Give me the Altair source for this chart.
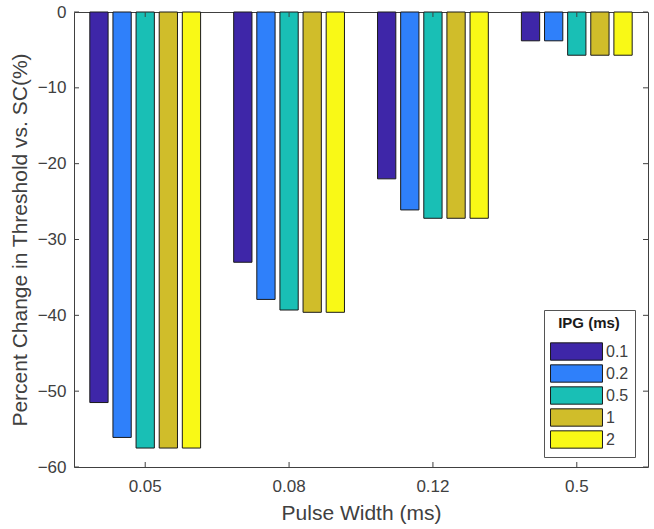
import altair as alt
import pandas as pd

# Pulse widths (x categories) and inter-phase gaps (series)
pulse_widths = ["0.05", "0.08", "0.12", "0.5"]
ipg_levels = ["0.1", "0.2", "0.5", "1", "2"]

# Percent change in threshold vs. SC for each IPG, one value per pulse width
ipg_0_1 = [-51.5, -33.0, -22.0, -3.8]
ipg_0_2 = [-56.1, -37.9, -26.1, -3.8]
ipg_0_5 = [-57.5, -39.3, -27.2, -5.7]
ipg_1 = [-57.5, -39.6, -27.2, -5.7]
ipg_2 = [-57.5, -39.6, -27.2, -5.7]

y_ticks = [0, -10, -20, -30, -40, -50, -60]

series = [ipg_0_1, ipg_0_2, ipg_0_5, ipg_1, ipg_2]
rows = []
for ipg, vals in zip(ipg_levels, series):
    for pw, v in zip(pulse_widths, vals):
        rows.append({"pw": pw, "ipg": ipg, "change": v})
df = pd.DataFrame(rows)

parula = ["#3e26a8", "#2f80fa", "#19bfb5", "#d0bd2a", "#f9f916"]

W, H = 574, 455
FONT = "Liberation Sans"
TXT = "#404040"
FRAME = "#404040"
LEG_X, LEG_Y = 470, 298

x_scale = alt.Scale(domain=pulse_widths, paddingInner=0.23, paddingOuter=0.11)
y_scale = alt.Scale(domain=[-60, 0], nice=False, zero=False)

bars = alt.Chart(df).mark_bar(stroke="#1a1a1a", strokeWidth=1).encode(
    x=alt.X("pw:N", scale=x_scale, sort=pulse_widths,
            axis=alt.Axis(title="Pulse Width (ms)", labelAngle=0, ticks=False,
                          labelPadding=11, titlePadding=8)),
    xOffset=alt.XOffset("ipg:N", sort=ipg_levels,
                        scale=alt.Scale(domain=ipg_levels, paddingInner=0.21)),
    y=alt.Y("change:Q", scale=y_scale,
            axis=alt.Axis(title="Percent Change in Threshold vs. SC(%)",
                          values=y_ticks, ticks=False, grid=False,
                          labelPadding=8, titlePadding=7)),
    color=alt.Color("ipg:N", sort=ipg_levels,
                    scale=alt.Scale(domain=ipg_levels, range=parula),
                    legend=alt.Legend(
                        title="IPG (ms)", orient="none", legendX=LEG_X, legendY=LEG_Y,
                        symbolType="M-3,-1H3V1H-3Z", symbolSize=300,
                        symbolStrokeColor="#1a1a1a", symbolStrokeWidth=1,
                        symbolOffset=17, labelOffset=20,
                        rowPadding=-1, padding=6, strokeColor="#555555",
                        fillColor="white", titleAnchor="middle",
                        titleFontWeight="bold", titleFontSize=15,
                        titlePadding=11, labelFontSize=16,
                        titleColor="#1a1a1a", labelColor=TXT, labelFont=FONT,
                        titleFont=FONT)),
)

# inward tick marks on all four sides of the box
tick_df = pd.DataFrame({"v": y_ticks})
pw_df = pd.DataFrame({"pw": pulse_widths})
yt_left = alt.Chart(tick_df).mark_rule(color=FRAME, strokeWidth=1).encode(
    y=alt.Y("v:Q", scale=y_scale), x=alt.value(0), x2=alt.value(5))
yt_right = alt.Chart(tick_df).mark_rule(color=FRAME, strokeWidth=1).encode(
    y=alt.Y("v:Q", scale=y_scale), x=alt.value(W - 5), x2=alt.value(W))
xt_bottom = alt.Chart(pw_df).mark_rule(color=FRAME, strokeWidth=1).encode(
    x=alt.X("pw:N", scale=x_scale, sort=pulse_widths), y=alt.value(H - 5), y2=alt.value(H))
xt_top = alt.Chart(pw_df).mark_rule(color=FRAME, strokeWidth=1).encode(
    x=alt.X("pw:N", scale=x_scale, sort=pulse_widths), y=alt.value(0), y2=alt.value(5))

# divider under the legend title
divider = alt.Chart(pw_df.head(1)).mark_rule(color="#555555", strokeWidth=1).encode(
    x=alt.value(LEG_X), x2=alt.value(LEG_X + 89), y=alt.value(322))

chart = alt.layer(bars, yt_left, yt_right, xt_bottom, xt_top, divider).properties(
    width=W, height=H, autosize="none", background="white",
    padding={"left": 74, "top": 12, "right": 6, "bottom": 62},
).configure_view(stroke=FRAME, strokeWidth=1).configure_axis(
    domain=False, labelFont=FONT, titleFont=FONT, labelFontSize=17,
    titleFontSize=21, labelColor=TXT, titleColor=TXT, titleFontWeight="normal",
)

chart.save("out.html", embed_options={"renderer": "svg", "actions": False})
